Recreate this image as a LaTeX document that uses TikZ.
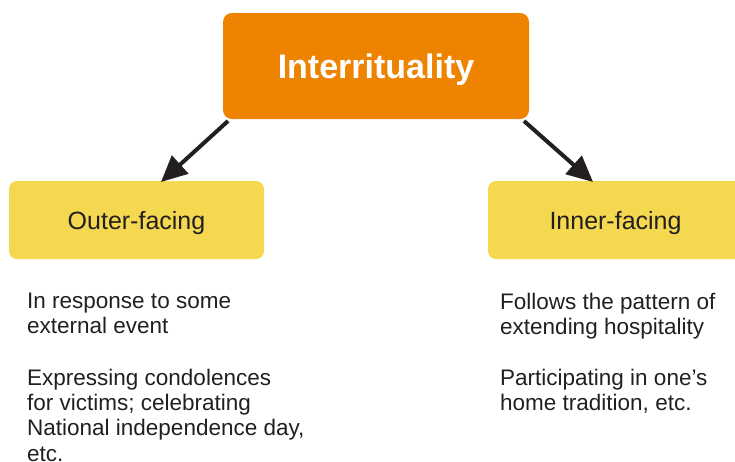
\documentclass[tikz,border=0pt]{standalone}
\usepackage{fontspec}
\setmainfont{Liberation Sans}
\usetikzlibrary{arrows.meta}
\definecolor{orangebox}{HTML}{EE8300}
\definecolor{yellowbox}{HTML}{F4D84F}
\definecolor{darktext}{HTML}{231F20}
\tikzset{
  topbox/.style={fill=orangebox, rounded corners=9pt, minimum width=306pt, minimum height=106pt, inner sep=0pt, text depth=0pt, text=white, font=\fontsize{34}{40}\selectfont\bfseries},
  subbox/.style={fill=yellowbox, rounded corners=8pt, minimum width=255pt, minimum height=78pt, inner sep=0pt, text depth=0pt, text=darktext, font=\fontsize{25}{30}\selectfont},
  bodytext/.style={anchor=north west, align=left, inner sep=0pt, text=darktext, font=\fontsize{22.5}{25.2}\selectfont},
  conn/.style={draw=darktext, line width=4pt, -{Triangle[length=26pt,width=24pt]}}
}
\begin{document}
\begin{tikzpicture}[x=1pt,y=-1pt]
\useasboundingbox (0,0) rectangle (735,461);
\begin{scope}
\clip (0,0) rectangle (735,461);
\node[topbox] (top) at (376,66) {Interrituality};
\node[subbox] (outer) at (136.5,220) {Outer-facing};
\node[subbox] (inner) at (615.5,220) {Inner-facing};
\end{scope}
\coordinate (ls) at (228,121);
\coordinate (le) at (161,182);
\coordinate (rs) at (524,121);
\coordinate (re) at (593,182);
\draw[conn] (ls) -- (le);
\draw[conn] (rs) -- (re);
\node[bodytext] (lt1) at (27,293) {In response to some\\external event};
\node[bodytext] (lt2) at (27,369) {Expressing condolences\\for victims; celebrating\\National independence day,\\etc.};
\node[bodytext] (rt1) at (500,293) {Follows the pattern of\\extending hospitality};
\node[bodytext] (rt2) at (500,369) {Participating in one’s\\home tradition, etc.};
\end{tikzpicture}
\end{document}
